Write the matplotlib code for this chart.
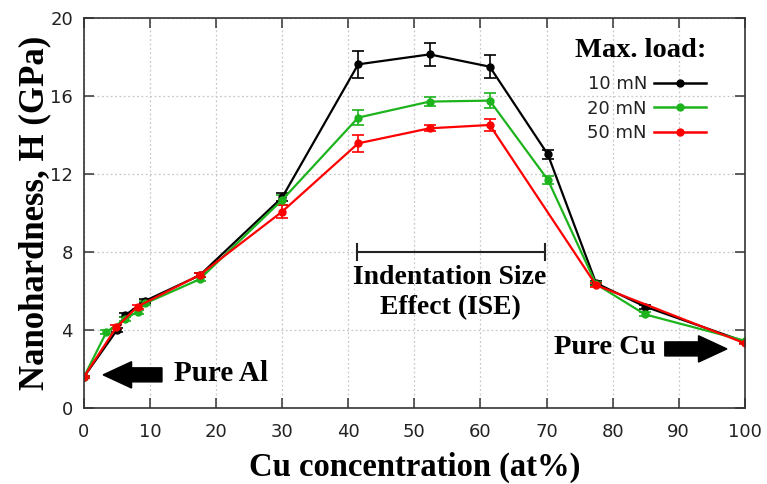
import matplotlib
matplotlib.use("Agg")
import matplotlib.pyplot as plt
from matplotlib.patches import FancyArrow
from matplotlib.lines import Line2D

# ---- data ----
x_10 = [0, 5.0, 6.2, 9.3, 17.5, 30, 41.5, 52.3, 61.4, 70.2, 77.5, 84.9, 100]
h_10 = [1.6, 4.0, 4.75, 5.5, 6.8, 10.8, 17.62, 18.13, 17.5, 13.0, 6.4, 5.2, 3.4]
e_10 = [0.05, 0.1, 0.1, 0.1, 0.1, 0.2, 0.68, 0.6, 0.6, 0.25, 0.1, 0.1, 0.05]

x_20 = [0, 3.4, 6.2, 8.1, 9.3, 17.5, 30, 41.5, 52.3, 61.4, 70.2, 77.5, 84.9, 100]
h_20 = [1.6, 3.9, 4.56, 4.94, 5.37, 6.6, 10.67, 14.89, 15.71, 15.76, 11.7, 6.35, 4.8, 3.45]
e_20 = [0.05, 0.1, 0.1, 0.1, 0.1, 0.1, 0.25, 0.4, 0.25, 0.4, 0.2, 0.1, 0.1, 0.05]

x_50 = [0, 4.9, 8.1, 17.5, 30, 41.5, 52.3, 61.4, 77.5, 100]
h_50 = [1.6, 4.14, 5.2, 6.82, 10.07, 13.57, 14.34, 14.51, 6.3, 3.32]
e_50 = [0.05, 0.1, 0.1, 0.1, 0.35, 0.43, 0.15, 0.3, 0.1, 0.05]

labels = ["10 mN", "20 mN", "50 mN"]
colors = ["#000000", "#1db31d", "#ff0000"]

x_ticks = [0, 10, 20, 30, 40, 50, 60, 70, 80, 90, 100]
y_ticks = [0, 4, 8, 12, 16, 20]

serif = ["Liberation Serif", "DejaVu Serif"]

fig = plt.figure(figsize=(7.67, 4.84), dpi=100)
ax = fig.add_axes([0.1095, 0.157, 0.8615, 0.806])

series = [(x_10, h_10, e_10), (x_20, h_20, e_20), (x_50, h_50, e_50)]
handles = []
for (xs, ys, es), lab, c in zip(series, labels, colors):
    ax.errorbar(xs, ys, yerr=es, color=c, lw=1.6, marker="o", ms=5,
                capsize=4, elinewidth=1.2, capthick=1.2)
    handles.append(Line2D([], [], color=c, lw=1.8, marker="o", ms=5, label=lab))

ax.set_xlim(0, 100)
ax.set_ylim(0, 20)
ax.set_xticks(x_ticks)
ax.set_yticks(y_ticks)
ax.grid(True, color="#c8c8c8", ls=(0, (1.5, 2)), lw=0.9)
ax.tick_params(direction="in", length=7, width=1.1, top=True, right=True,
               labelsize=13, colors="#333333", labelcolor="#222222")
ax.tick_params(axis="x", pad=11)
ax.tick_params(axis="y", pad=8)
for sp in ax.spines.values():
    sp.set_color("#333333")
    sp.set_linewidth(1.2)

ax.set_xlabel("Cu concentration (at%)", family=serif, fontweight="bold",
              fontsize=23.5, labelpad=7.5)
ax.set_ylabel("Nanohardness, H (GPa)", family=serif, fontweight="bold",
              fontsize=25, labelpad=-1)

# arrows and labels
ax.add_patch(FancyArrow(11.8, 1.7, -8.9, 0, width=0.72, head_width=1.35,
                        head_length=4.3, length_includes_head=True,
                        color="black", zorder=5))
ax.text(13.6, 1.75, "Pure Al", family=serif, fontweight="bold", fontsize=21,
        va="center", ha="left")
ax.add_patch(FancyArrow(87.9, 3.03, 9.4, 0, width=0.72, head_width=1.35,
                        head_length=4.3, length_includes_head=True,
                        color="black", zorder=5))
ax.text(86.6, 3.1, "Pure Cu", family=serif, fontweight="bold", fontsize=20.5,
        va="center", ha="right")

# ISE bracket
ax.plot([41.3, 69.7], [8.0, 8.0], color="#222222", lw=1.5)
ax.plot([41.3, 41.3], [7.6, 8.4], color="#222222", lw=1.5)
ax.plot([69.7, 69.7], [7.6, 8.4], color="#222222", lw=1.5)
ax.text(55.4, 6.67, "Indentation Size", family=serif, fontweight="bold",
        fontsize=20, ha="center", va="center")
ax.text(55.4, 5.13, "Effect (ISE)", family=serif, fontweight="bold",
        fontsize=20, ha="center", va="center")

leg = ax.legend(handles=handles, loc="upper right", frameon=False,
                markerfirst=False, title="Max. load:", fontsize=13,
                handlelength=2.9, labelspacing=0.36, borderaxespad=0.0,
                handletextpad=0.4, bbox_to_anchor=(0.953, 0.968))
leg.get_title().set_family(serif)
leg.get_title().set_fontweight("bold")
leg.get_title().set_fontsize(20.5)
leg._legend_box.align = "right"
leg._legend_box.sep = 9
for t in leg.get_texts():
    t.set_color("#222222")

fig.savefig("out.png", dpi=100)
